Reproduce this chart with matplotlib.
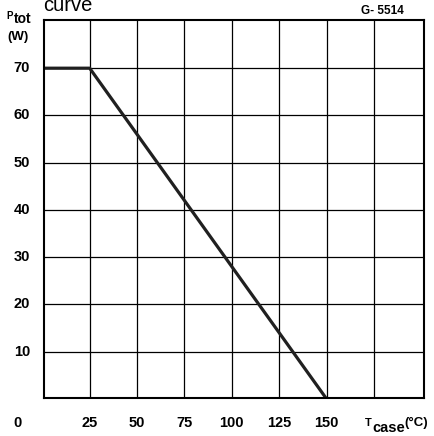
import matplotlib.pyplot as plt
from matplotlib.transforms import blended_transform_factory

# derating curve: case temperature vs total power dissipation
t_case = [0, 25, 150]
p_tot = [70, 70, 0]

x_ticks = [25, 50, 75, 100, 125, 150]
y_ticks = [10, 20, 30, 40, 50, 60, 70]

plt.rcParams['font.family'] = ['Liberation Sans', 'DejaVu Sans']

W, H = 434, 436
fig = plt.figure(figsize=(W / 100, H / 100), dpi=100)
ax = fig.add_axes([44 / W, (H - 397.5) / H, 380 / W, 377.5 / H])


def px(x, y):
    # pixel position (from top-left) to figure fraction
    return x / W, 1 - y / H


ax.set_xlim(0.9, 201.4)
ax.set_ylim(0.3, 80.2)
ax.set_xticks(range(25, 200, 25))
ax.set_yticks(range(10, 80, 10))
ax.grid(True, color='black', linewidth=0.9)
ax.tick_params(length=0, labelbottom=False, labelleft=False)
for s in ax.spines.values():
    s.set_linewidth(1.5)

ax.plot(t_case, p_tot, color='#202020', linewidth=2.3, solid_capstyle='butt')

# tick labels sit well clear of the frame
xlab = blended_transform_factory(ax.transData, fig.transFigure)
ylab = blended_transform_factory(fig.transFigure, ax.transData)
for v in x_ticks:
    ax.text(v, 1 - 423 / H, str(v), transform=xlab, ha='center', va='center',
            fontsize=10.5, fontweight='bold')
for v in y_ticks:
    ax.text(30 / W, v, str(v), transform=ylab, ha='right', va='center',
            fontsize=10.5, fontweight='bold')

fig.text(*px(17, 423), '0', ha='center', va='center', fontsize=10.5, fontweight='bold')

# axis titles
fig.text(*px(368.5, 422.5), 'T', ha='center', va='center', fontsize=8, fontweight='bold')
fig.text(*px(372, 428), 'case', ha='left', va='center', fontsize=10.5, fontweight='bold')
fig.text(*px(404, 423), '(°C)', ha='left', va='center', fontsize=9.5, fontweight='bold')
fig.text(*px(10, 16), 'P', ha='center', va='center', fontsize=7, fontweight='bold')
fig.text(*px(14, 19), 'tot', ha='left', va='center', fontsize=10, fontweight='bold')
fig.text(*px(18, 37), '(W)', ha='center', va='center', fontsize=9.5, fontweight='bold')

fig.text(*px(43, 11), 'curve', ha='left', va='baseline', fontsize=14.5)
fig.text(*px(382, 11), 'G- 5514', ha='center', va='center', fontsize=8.5, fontweight='bold')

fig.savefig('out.png', dpi=100)
